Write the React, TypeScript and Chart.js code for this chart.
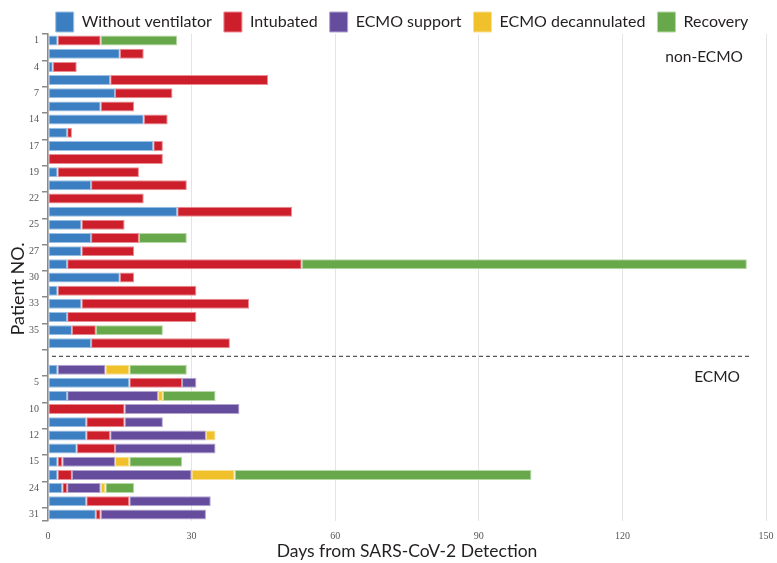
import React, { useEffect, useRef } from 'react';
import { Chart, registerables } from 'chart.js';

Chart.register(...registerables);

// ---- Data ----
const nonEcmoLabels = ['1', '', '4', '', '7', '', '14', '', '17', '', '19', '', '22', '', '25', '', '27', '', '30', '', '33', '', '35', ''];
const separatorLabel = [''];
const ecmoLabels = ['', '5', '', '10', '', '12', '', '15', '', '24', '', '31'];

const seriesNames = ['Without ventilator', 'Intubated', 'ECMO support', 'ECMO decannulated', 'Recovery'];

const withoutVentNon = [2, 15, 1, 13, 14, 11, 20, 4, 22, 0, 2, 9, 0, 27, 7, 9, 7, 4, 15, 2, 7, 4, 5, 9];
const withoutVentEcmo = [2, 17, 4, 0, 8, 8, 6, 2, 2, 3, 8, 10];

const intubatedNon = [9, 5, 5, 33, 12, 7, 5, 1, 2, 24, 17, 20, 20, 24, 9, 10, 11, 49, 3, 29, 35, 27, 5, 29];
const intubatedEcmo = [0, 11, 0, 16, 8, 5, 8, 1, 3, 1, 9, 1];

const ecmoSupportNon = [0, 0, 0, 0, 0, 0, 0, 0, 0, 0, 0, 0, 0, 0, 0, 0, 0, 0, 0, 0, 0, 0, 0, 0];
const ecmoSupportEcmo = [10, 3, 19, 24, 8, 20, 21, 11, 25, 7, 17, 22];

const decannulatedNon = [0, 0, 0, 0, 0, 0, 0, 0, 0, 0, 0, 0, 0, 0, 0, 0, 0, 0, 0, 0, 0, 0, 0, 0];
const decannulatedEcmo = [5, 0, 1, 0, 0, 2, 0, 3, 9, 1, 0, 0];

const recoveryNon = [16, 0, 0, 0, 0, 0, 0, 0, 0, 0, 0, 0, 0, 0, 0, 10, 0, 93, 0, 0, 0, 0, 14, 0];
const recoveryEcmo = [12, 0, 11, 0, 0, 0, 0, 11, 62, 6, 0, 0];

const xTickStep = 30;
const xMin = 0;
const xMax = 150;

// ---- Styles ----
const fillColors = ['#3b7fc2', '#cc1f2b', '#654c9c', '#f0c12a', '#67a84a'];
const edgeColors = ['#9cc0e3', '#ec8c92', '#b3a5d0', '#f8e096', '#b6d8a6'];
const FONT = 'Lato, "Open Sans", sans-serif';

const rowLabels = [...nonEcmoLabels, ...separatorLabel, ...ecmoLabels];
const join = (a: number[], b: number[]) => [...a, 0, ...b].map((v) => (v === 0 ? null : v));
const seriesData = [
  join(withoutVentNon, withoutVentEcmo),
  join(intubatedNon, intubatedEcmo),
  join(ecmoSupportNon, ecmoSupportEcmo),
  join(decannulatedNon, decannulatedEcmo),
  join(recoveryNon, recoveryEcmo),
];

const legendShift = {
  id: 'legendShift',
  afterLayout(chart: any) {
    if (chart.legend) {
      chart.legend.left = 35;
      chart.legend.right = 769;
    }
  },
};

const annotations = {
  id: 'annotations',
  afterDatasetsDraw(chart: any) {
    const { ctx, chartArea, scales } = chart;
    const sepY = scales.y.getPixelForValue(nonEcmoLabels.length);
    ctx.save();
    ctx.strokeStyle = '#555';
    ctx.lineWidth = 1.3;
    ctx.setLineDash([4, 3]);
    ctx.beginPath();
    ctx.moveTo(chartArea.left + 4, sepY);
    ctx.lineTo(chartArea.right - 14, sepY);
    ctx.stroke();
    ctx.setLineDash([]);
    ctx.fillStyle = '#231f20';
    ctx.font = '15.5px ' + FONT;
    ctx.textAlign = 'right';
    ctx.textBaseline = 'middle';
    ctx.fillText('non-ECMO', chartArea.right - 23, chartArea.top + 23);
    ctx.fillText('ECMO', chartArea.right - 26, sepY + 21);
    ctx.translate(18, 289);
    ctx.rotate(-Math.PI / 2);
    ctx.textAlign = 'center';
    ctx.font = '18px ' + FONT;
    ctx.fillText('Patient NO.', 0, 0);
    ctx.restore();
  },
};

export default function App() {
  const canvasRef = useRef<HTMLCanvasElement | null>(null);

  useEffect(() => {
    document.body.style.margin = '0';
    const canvas = canvasRef.current;
    if (!canvas) return;
    const chart = new Chart(canvas, {
      type: 'bar',
      data: {
        labels: rowLabels,
        datasets: seriesNames.map((name, i) => ({
          label: name,
          data: seriesData[i],
          backgroundColor: fillColors[i],
          borderColor: edgeColors[i],
          borderWidth: 1,
          borderSkipped: false,
          barPercentage: 0.76,
          categoryPercentage: 1,
        })),
      },
      options: {
        indexAxis: 'y',
        animation: false,
        responsive: false,
        devicePixelRatio: 1,
        layout: { padding: { left: 0, right: 11, top: 0, bottom: 0 } },
        plugins: {
          tooltip: { enabled: false },
          legend: {
            position: 'top',
            maxHeight: 34,
            labels: {
              boxWidth: 18,
              boxHeight: 20,
              padding: 12,
              color: '#231f20',
              font: { family: FONT, size: 16 },
            },
          },
        },
        scales: {
          x: {
            type: 'linear',
            stacked: true,
            min: xMin,
            max: xMax,
            afterFit: (s: any) => {
              s.height = 42;
              s.paddingRight = 0;
              s.paddingLeft = 0;
            },
            ticks: {
              stepSize: xTickStep,
              color: '#555',
              padding: 9,
              font: { family: '"Liberation Serif", serif', size: 10 },
            },
            grid: { color: '#e4e4e4', lineWidth: 1, drawTicks: false },
            border: { display: false },
            title: {
              display: true,
              text: 'Days from SARS-CoV-2 Detection',
              color: '#231f20',
              font: { family: FONT, size: 17.5 },
              padding: { top: 0, bottom: 1 },
            },
          },
          y: {
            type: 'category',
            stacked: true,
            afterFit: (s: any) => { s.width = 48; },
            ticks: {
              autoSkip: false,
              color: '#555',
              padding: 3,
              font: { family: '"Liberation Serif", serif', size: 10 },
            },
            grid: {
              drawOnChartArea: false,
              tickLength: 6,
              lineWidth: 1.5,
              color: (c: any) => (c.index === undefined || c.index % 2 === 0 ? '#8a8a8a' : 'rgba(0,0,0,0)'),
            },
            border: { display: true, color: '#8a8a8a', width: 1.5 },
          },
        },
      },
      plugins: [legendShift, annotations],
    } as any);
    return () => chart.destroy();
  }, []);

  return (
    <div style={{ width: 777, height: 563, position: 'relative', background: '#fff' }}>
      <canvas ref={canvasRef} width={777} height={563} style={{ width: 777, height: 563, display: 'block' }} />
    </div>
  );
}
